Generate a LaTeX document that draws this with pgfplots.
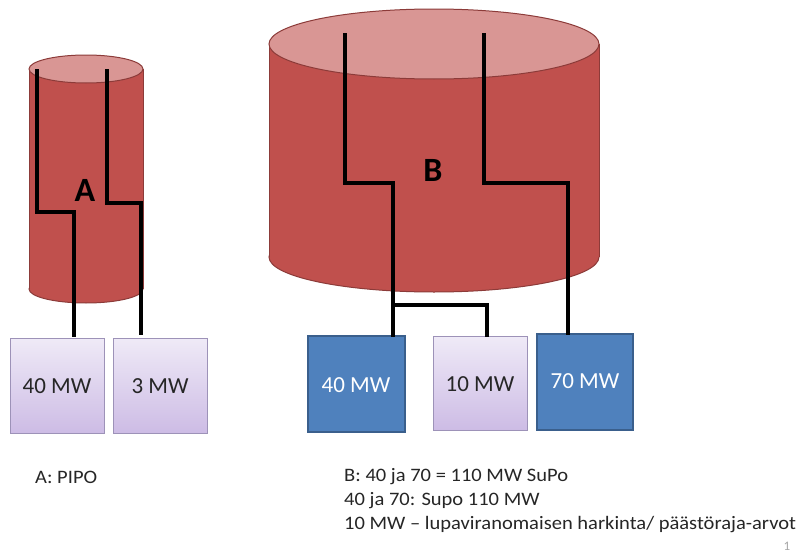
\documentclass[border=0pt]{standalone}
\usepackage{pgfplots}
\pgfplotsset{compat=1.18}
\usepackage{fontspec}
\setmainfont{Carlito}
\definecolor{cylbody}{HTML}{C0504D}
\definecolor{cyltop}{HTML}{D99694}
\definecolor{cylborder}{HTML}{8C3B39}
\definecolor{lavtop}{HTML}{EFEAF7}
\definecolor{lavbot}{HTML}{CDBCE5}
\definecolor{lavborder}{HTML}{9D92B8}
\definecolor{bluefill}{HTML}{4F81BD}
\definecolor{blueborder}{HTML}{3A5F8C}
\definecolor{txt}{HTML}{262626}
\begin{document}
\begin{tikzpicture}
\begin{axis}[
  width=804pt, height=554pt, scale only axis,
  xmin=0, xmax=804, ymin=0, ymax=554, y dir=reverse,
  hide axis, clip=false,
]
\path (axis cs:0,0) rectangle (axis cs:804,554);
% cylinder A
\draw[cylborder, line width=1pt, fill=cylbody] (axis cs:86,289) ellipse [x radius=57pt, y radius=14pt];
\fill[cylbody] (axis cs:29,69) rectangle (axis cs:143,289);
\draw[cylborder, line width=1pt] (axis cs:29,69) -- (axis cs:29,289);
\draw[cylborder, line width=1pt] (axis cs:143,69) -- (axis cs:143,289);
\draw[cylborder, line width=1pt, fill=cyltop] (axis cs:86,69) ellipse [x radius=57pt, y radius=14pt];
% cylinder B
\draw[cylborder, line width=1pt, fill=cylbody] (axis cs:434,257) ellipse [x radius=165pt, y radius=35pt];
\fill[cylbody] (axis cs:269,44) rectangle (axis cs:599,257);
\draw[cylborder, line width=1pt] (axis cs:269,44) -- (axis cs:269,257);
\draw[cylborder, line width=1pt] (axis cs:599,44) -- (axis cs:599,257);
\draw[cylborder, line width=1pt, fill=cyltop] (axis cs:434,44) ellipse [x radius=165pt, y radius=35pt];
% boxes
\addplot[draw=lavborder, line width=1pt, top color=lavtop, bottom color=lavbot, mark=none]
  coordinates {(10,338) (104,338) (104,433) (10,433)} -- cycle;
\addplot[draw=lavborder, line width=1pt, top color=lavtop, bottom color=lavbot, mark=none]
  coordinates {(113,338) (207,338) (207,433) (113,433)} -- cycle;
\addplot[draw=blueborder, line width=1.2pt, fill=bluefill, mark=none]
  coordinates {(308,336) (405,336) (405,432) (308,432)} -- cycle;
\addplot[draw=lavborder, line width=1pt, top color=lavtop, bottom color=lavbot, mark=none]
  coordinates {(433,336) (527,336) (527,430) (433,430)} -- cycle;
\addplot[draw=blueborder, line width=1.2pt, fill=bluefill, mark=none]
  coordinates {(537,334) (633,334) (633,430) (537,430)} -- cycle;
% pipes
\addplot[black, line width=3.5pt, mark=none, line join=miter]
  coordinates {(37,69) (37,212) (74,212) (74,337)};
\addplot[black, line width=3.5pt, mark=none, line join=miter]
  coordinates {(107,69) (107,203) (141,203) (141,335)};
\addplot[black, line width=3.5pt, mark=none, line join=miter]
  coordinates {(345,33) (345,183) (393,183) (393,337)};
\addplot[black, line width=3.5pt, mark=none, line join=miter]
  coordinates {(393,305) (487,305) (487,337)};
\addplot[black, line width=3.5pt, mark=none, line join=miter]
  coordinates {(484,33) (484,183) (568,183) (568,335)};
% labels
\node[font=\fontsize{34}{40}\selectfont\bfseries, text=black] at (axis cs:85,190) {A};
\node[font=\fontsize{34}{40}\selectfont\bfseries, text=black] at (axis cs:433,170) {B};
\node[font=\fontsize{23}{28}\selectfont, text=txt] at (axis cs:57,386) {40 MW};
\node[font=\fontsize{23}{28}\selectfont, text=txt] at (axis cs:160,386) {3 MW};
\node[font=\fontsize{23}{28}\selectfont, text=white] at (axis cs:356,385) {40 MW};
\node[font=\fontsize{23}{28}\selectfont, text=txt] at (axis cs:480,384) {10 MW};
\node[font=\fontsize{23}{28}\selectfont, text=white] at (axis cs:585,381) {70 MW};
% bottom text
\node[font=\fontsize{19}{23}\selectfont, text=txt, anchor=base west, inner sep=0pt, xscale=1.08] at (axis cs:35,483) {A: PIPO};
\node[font=\fontsize{19}{23}\selectfont, text=txt, anchor=base west, inner sep=0pt, xscale=1.08] at (axis cs:344,481) {B: 40 ja 70 = 110 MW SuPo};
\node[font=\fontsize{19}{23}\selectfont, text=txt, anchor=base west, inner sep=0pt, xscale=1.08] at (axis cs:344,505) {40 ja 70: Supo 110 MW};
\node[font=\fontsize{19}{23}\selectfont, text=txt, anchor=base west, inner sep=0pt, xscale=1.08] at (axis cs:344,529) {10 MW -- lupaviranomaisen harkinta/ päästöraja-arvot};
\node[font=\fontsize{13}{15}\selectfont, text=gray!70] at (axis cs:787,546) {1};
\end{axis}
\end{tikzpicture}
\end{document}
